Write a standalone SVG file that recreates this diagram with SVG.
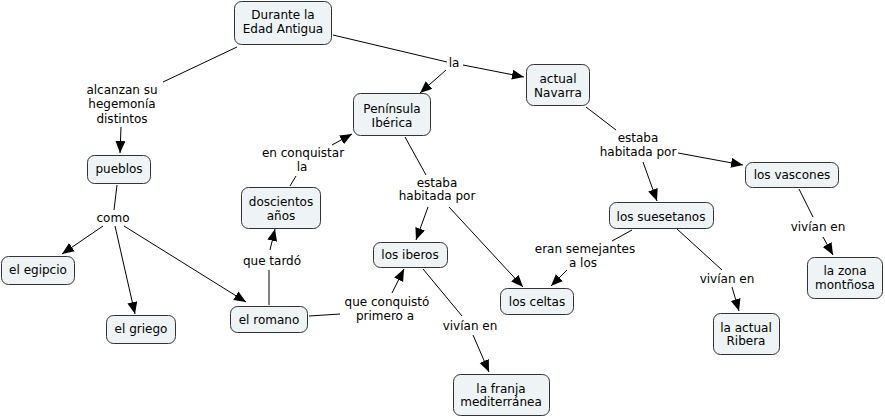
<svg xmlns="http://www.w3.org/2000/svg" width="885" height="417" viewBox="0 0 885 417">
<style>
.n rect{fill:#eef3f5;stroke:#333;stroke-width:1}
text{font-family:"DejaVu Sans",Verdana,sans-serif;font-size:12px;fill:#000;text-anchor:middle}
.c line{stroke:#000;stroke-width:1}
.c line.a{marker-end:url(#ah)}
</style>
<defs>
<marker id="ah" markerUnits="userSpaceOnUse" markerWidth="13" markerHeight="11" refX="12" refY="5" orient="auto">
<path d="M0,0 L12,5 L0,10 z" fill="#000"/>
</marker>
</defs>
<rect width="885" height="417" fill="#fff"/>
<g class="c" id="connectors">
<line x1="237" y1="47" x2="163" y2="82"/>
<line class="a" x1="121" y1="127" x2="120" y2="153"/>
<line x1="333" y1="35" x2="447" y2="62"/>
<line class="a" x1="446" y1="70" x2="420" y2="93"/>
<line class="a" x1="463" y1="65" x2="524" y2="77"/>
<line x1="405" y1="137" x2="426" y2="175"/>
<line class="a" x1="428" y1="207" x2="416" y2="240"/>
<line class="a" x1="449" y1="207" x2="523" y2="287"/>
<line x1="290" y1="186" x2="296" y2="176"/>
<line class="a" x1="332" y1="145" x2="352" y2="134"/>
<line x1="269" y1="305" x2="269" y2="270"/>
<line class="a" x1="270" y1="250" x2="275" y2="229"/>
<line x1="117" y1="185" x2="114" y2="210"/>
<line class="a" x1="103" y1="226" x2="62" y2="254"/>
<line class="a" x1="115" y1="226" x2="135" y2="314"/>
<line class="a" x1="124" y1="226" x2="246" y2="302"/>
<line x1="309" y1="316" x2="340" y2="314"/>
<line class="a" x1="392" y1="293" x2="404" y2="269"/>
<line x1="423" y1="269" x2="462" y2="316"/>
<line class="a" x1="473" y1="335" x2="489" y2="372"/>
<line x1="586" y1="107" x2="616" y2="130"/>
<line class="a" x1="678" y1="153" x2="743" y2="165"/>
<line class="a" x1="643" y1="162" x2="657" y2="201"/>
<line x1="632" y1="230" x2="612" y2="241"/>
<line class="a" x1="567" y1="270" x2="551" y2="286"/>
<line x1="677" y1="229" x2="722" y2="270"/>
<line class="a" x1="732" y1="287" x2="739" y2="311"/>
<line x1="799" y1="189" x2="813" y2="217"/>
<line class="a" x1="823" y1="237" x2="833" y2="255"/>
</g>
<g id="labels">
<text x="122" y="94">alcanzan su</text>
<text x="122" y="108">hegemonía</text>
<text x="122" y="123">distintos</text>
<text x="454" y="67">la</text>
<text x="303" y="157">en conquistar</text>
<text x="302" y="171">la</text>
<text x="272" y="265">que tardó</text>
<text x="113" y="222">como</text>
<text x="437" y="187">estaba</text>
<text x="437" y="200">habitada por</text>
<text x="387" y="306">que conquistó</text>
<text x="385" y="320">primero a</text>
<text x="470" y="330">vivían en</text>
<text x="638" y="142">estaba</text>
<text x="638" y="156">habitada por</text>
<text x="585" y="253">eran semejantes</text>
<text x="583" y="267">a los</text>
<text x="727" y="283">vivían en</text>
<text x="818" y="231">vivían en</text>
</g>
<g class="n" id="durante"><rect x="234.5" y="1.5" width="97" height="43" rx="7"/><text x="283" y="19">Durante la</text><text x="283" y="33">Edad Antigua</text></g>
<g class="n" id="peninsula"><rect x="353.5" y="93.5" width="77" height="42" rx="7"/><text x="392" y="113">Península</text><text x="392" y="127">Ibérica</text></g>
<g class="n" id="navarra"><rect x="526.5" y="64.5" width="63" height="41" rx="7"/><text x="558" y="83">actual</text><text x="558" y="97">Navarra</text></g>
<g class="n" id="pueblos"><rect x="87.5" y="155.5" width="63" height="28" rx="7"/><text x="119" y="173">pueblos</text></g>
<g class="n" id="doscientos"><rect x="241.5" y="187.5" width="79" height="41" rx="7"/><text x="281" y="206">doscientos</text><text x="281" y="220">años</text></g>
<g class="n" id="iberos"><rect x="373.5" y="242.5" width="74" height="25" rx="7"/><text x="410" y="259">los iberos</text></g>
<g class="n" id="egipcio"><rect x="1.5" y="256.5" width="73" height="28" rx="7"/><text x="38" y="274">el egipcio</text></g>
<g class="n" id="griego"><rect x="106.5" y="315.5" width="69" height="28" rx="7"/><text x="141" y="333">el griego</text></g>
<g class="n" id="romano"><rect x="230.5" y="306.5" width="77" height="26" rx="7"/><text x="269" y="324">el romano</text></g>
<g class="n" id="celtas"><rect x="500.5" y="288.5" width="73" height="26" rx="7"/><text x="537" y="306">los celtas</text></g>
<g class="n" id="franja"><rect x="453.5" y="374.5" width="96" height="41" rx="7"/><text x="501" y="393">la franja</text><text x="501" y="406">mediterránea</text></g>
<g class="n" id="ribera"><rect x="713.5" y="313.5" width="66" height="41" rx="7"/><text x="746" y="332">la actual</text><text x="746" y="345">Ribera</text></g>
<g class="n" id="zona"><rect x="807.5" y="257.5" width="75" height="41" rx="7"/><text x="845" y="275">la zona</text><text x="845" y="289">montñosa</text></g>
<g class="n" id="vascones"><rect x="745.5" y="162.5" width="93" height="25" rx="7"/><text x="792" y="179">los vascones</text></g>
<g class="n" id="suesetanos"><rect x="609.5" y="202.5" width="104" height="26" rx="7"/><text x="661" y="221">los suesetanos</text></g>
</svg>
